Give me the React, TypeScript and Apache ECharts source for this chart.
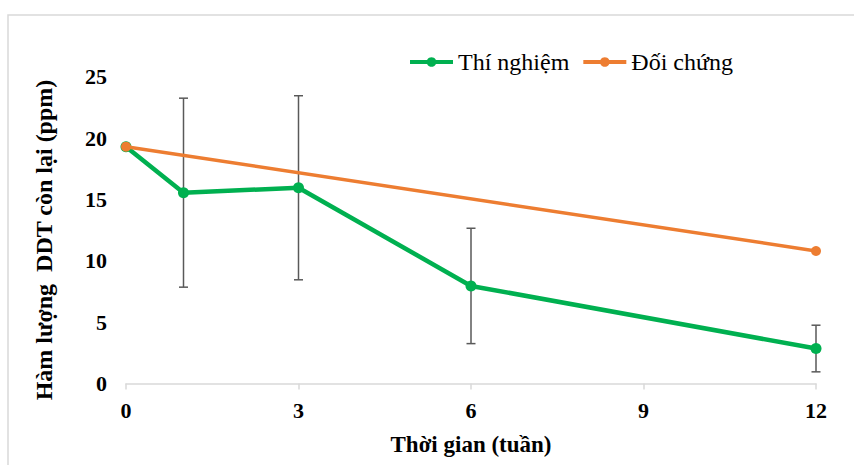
import React, { useEffect, useRef } from "react";
import * as echarts from "echarts";

// Sampling weeks and measured residual DDT (ppm)
const weeks = [0, 1, 3, 6, 12];
const thiNghiem = [19.3, 15.55, 15.95, 7.95, 2.85];
const thiNghiemSd = [0, 7.7, 7.5, 4.7, 1.9];

// Control series: only start and end measurements
const doiChungWeeks = [0, 12];
const doiChung = [19.3, 10.8];

const xTicks = { min: 0, max: 12, interval: 3 };
const yTicks = { min: 0, max: 25, interval: 5 };

const seriesNames = ["Thí nghiệm", "Đối chứng"];
const xTitle = "Thời gian (tuần)";
const yTitle = "Hàm lượng  DDT còn lại (ppm)";

const FONT = "Liberation Serif";
const GREEN = "#00B050";
const ORANGE = "#ED7D31";
const AXIS_GRAY = "#D9D9D9";
const ERR_GRAY = "#595959";

export default function App() {
  const ref = useRef<HTMLDivElement>(null);

  useEffect(() => {
    if (!ref.current) return;
    const chart = echarts.init(ref.current, undefined, { renderer: "svg" });

    const errData = weeks
      .map((w, i) => [w, thiNghiem[i] - thiNghiemSd[i], thiNghiem[i] + thiNghiemSd[i]])
      .filter((_, i) => thiNghiemSd[i] > 0);

    chart.setOption({
      animation: false,
      backgroundColor: "#ffffff",
      textStyle: { fontFamily: FONT },
      grid: { left: 126, right: 38, top: 76.7, bottom: 81.5 },
      legend: {
        data: seriesNames,
        left: 408,
        top: 50,
        padding: 0,
        itemWidth: 43,
        itemHeight: 12,
        itemGap: 12,
        lineStyle: { width: 4 },
        textStyle: { fontFamily: FONT, fontSize: 24, color: "#000" },
      },
      xAxis: {
        type: "value",
        ...xTicks,
        name: xTitle,
        nameLocation: "middle",
        nameGap: 49,
        nameTextStyle: { fontFamily: FONT, fontSize: 23, fontWeight: "bold", color: "#000" },
        axisLine: { show: true, lineStyle: { color: AXIS_GRAY, width: 1.5 } },
        axisTick: { show: true, length: 6, lineStyle: { color: AXIS_GRAY, width: 1.5 } },
        axisLabel: { fontFamily: FONT, fontSize: 22, fontWeight: "bold", color: "#000", margin: 16 },
        splitLine: { show: false },
      },
      yAxis: {
        type: "value",
        ...yTicks,
        axisLine: { show: false },
        axisTick: { show: false },
        axisLabel: { fontFamily: FONT, fontSize: 22, fontWeight: "bold", color: "#000", margin: 19 },
        splitLine: { show: false },
      },
      graphic: [
        {
          type: "rect",
          shape: { x: 8, y: 15, width: 900, height: 500 },
          style: { fill: "none", stroke: AXIS_GRAY, lineWidth: 1.5 },
          silent: true,
        },
        {
          type: "text",
          x: 44,
          y: 240,
          rotation: Math.PI / 2,
          style: {
            text: yTitle,
            fontFamily: FONT,
            fontSize: 24,
            fontWeight: "bold",
            fill: "#000",
            textAlign: "center",
            textVerticalAlign: "middle",
          },
        },
      ],
      series: [
        {
          type: "custom",
          name: "errorbars",
          data: errData,
          z: 1,
          renderItem: (_params: any, api: any) => {
            const x = api.value(0);
            const top = api.coord([x, api.value(2)]);
            const bot = api.coord([x, api.value(1)]);
            const cap = 4.5;
            const style = { stroke: ERR_GRAY, lineWidth: 1.5 };
            return {
              type: "group",
              children: [
                { type: "line", shape: { x1: top[0], y1: top[1], x2: bot[0], y2: bot[1] }, style },
                { type: "line", shape: { x1: top[0] - cap, y1: top[1], x2: top[0] + cap, y2: top[1] }, style },
                { type: "line", shape: { x1: bot[0] - cap, y1: bot[1], x2: bot[0] + cap, y2: bot[1] }, style },
              ],
            };
          },
        },
        {
          type: "line",
          name: seriesNames[0],
          data: weeks.map((w, i) => [w, thiNghiem[i]]),
          symbol: "circle",
          symbolSize: 11,
          z: 3,
          lineStyle: { color: GREEN, width: 4.5 },
          itemStyle: { color: GREEN },
        },
        {
          type: "line",
          name: seriesNames[1],
          data: doiChungWeeks.map((w, i) => [w, doiChung[i]]),
          symbol: "circle",
          symbolSize: 10,
          z: 4,
          lineStyle: { color: ORANGE, width: 3.5 },
          itemStyle: { color: ORANGE },
        },
      ],
    });

    return () => chart.dispose();
  }, []);

  return (
    <div
      ref={ref}
      style={{ position: "fixed", left: 0, top: 0, width: 854, height: 465, background: "#fff" }}
    />
  );
}
